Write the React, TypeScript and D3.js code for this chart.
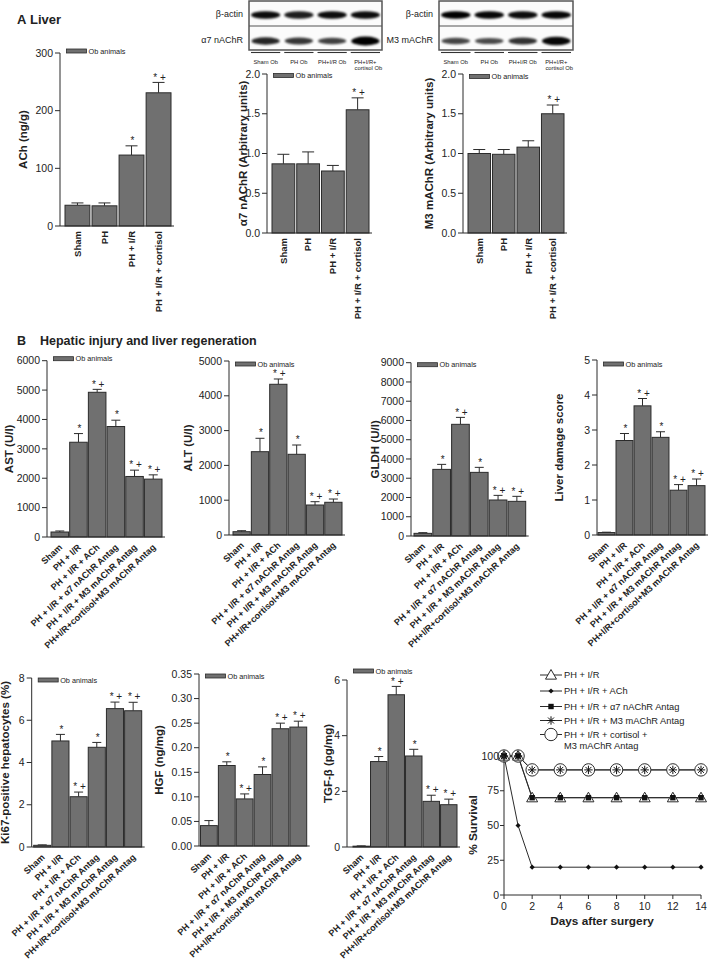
import React from "react";
import * as d3 from "d3";

const FONT = "'Liberation Sans', Arial, Helvetica, sans-serif";
const BAR_FILL = "#707070";
const INK = "#2b2b2b";

// ---------- categories & labels ----------
const catsA = ["Sham", "PH", "PH + I/R", "PH + I/R + cortisol"];
const catsB = [
  "Sham",
  "PH + I/R",
  "PH + I/R + ACh",
  "PH + I/R + \u03b17 nAChR Antag",
  "PH + I/R + M3 mAChR Antag",
  "PH+I/R+cortisol+M3 mAChR Antag",
];
const sigA1 = ["", "", "*", "* +"];
const sigA23 = ["", "", "", "* +"];
const sigB = ["", "*", "* +", "*", "* +", "* +"];
const laneLabels = ["Sham Ob", "PH Ob", "PH+I/R Ob", "PH+I/R+|cortisol Ob"];

// ---------- panel A ----------
const achMean = [36, 35, 123, 231];
const achSem = [4, 5, 16, 18];
const achTicks = [0, 100, 200, 300];

const a7Mean = [0.87, 0.87, 0.78, 1.55];
const a7Sem = [0.12, 0.15, 0.07, 0.15];
const m3Mean = [1.0, 0.99, 1.08, 1.5];
const m3Sem = [0.05, 0.06, 0.08, 0.11];
const arbTicks = [0, 0.5, 1.0, 1.5, 2.0];

// blot band intensities (0..1)
const a7BlotActin = [0.95, 0.88, 0.95, 0.95];
const a7BlotTarget = [0.85, 0.78, 0.74, 1.0];
const m3BlotActin = [1.0, 0.97, 0.95, 0.97];
const m3BlotTarget = [0.72, 0.7, 0.8, 0.97];

// ---------- panel B ----------
const astMean = [170, 3225, 4925, 3760, 2060, 1970];
const astSem = [35, 295, 100, 215, 215, 145];
const astTicks = [0, 1000, 2000, 3000, 4000, 5000, 6000];

const altMean = [95, 2394, 4331, 2319, 862, 940];
const altSem = [29, 385, 152, 267, 95, 94];
const altTicks = [0, 1000, 2000, 3000, 4000, 5000];

const gldhMean = [138, 3460, 5800, 3305, 1870, 1800];
const gldhSem = [35, 260, 360, 260, 240, 260];
const gldhTicks = [0, 1000, 2000, 3000, 4000, 5000, 6000, 7000, 8000, 9000];

const ldsMean = [0.07, 2.7, 3.69, 2.79, 1.28, 1.41];
const ldsSem = [0.01, 0.2, 0.21, 0.16, 0.16, 0.19];
const ldsTicks = [0, 1, 2, 3, 4, 5];

const ki67Mean = [0.08, 5.02, 2.38, 4.72, 6.55, 6.45];
const ki67Sem = [0.02, 0.31, 0.22, 0.23, 0.31, 0.4];
const ki67Ticks = [0, 2, 4, 6, 8];

const hgfMean = [0.0415, 0.1638, 0.0958, 0.1455, 0.2386, 0.242];
const hgfSem = [0.0102, 0.0075, 0.0102, 0.0155, 0.0114, 0.012];
const hgfTicks = [0, 0.05, 0.1, 0.15, 0.2, 0.25, 0.3, 0.35];

const tgfMean = [0.03, 3.07, 5.47, 3.27, 1.64, 1.52];
const tgfSem = [0.01, 0.18, 0.3, 0.24, 0.22, 0.2];
const tgfTicks = [0, 2, 4, 6];

// ---------- survival ----------
const days = [0, 1, 2, 4, 6, 8, 10, 12, 14];
const survIR = [100, 100, 70, 70, 70, 70, 70, 70, 70];
const survACh = [100, 50, 20, 20, 20, 20, 20, 20, 20];
const survA7 = [100, 100, 70, 70, 70, 70, 70, 70, 70];
const survM3 = [100, 100, 90, 90, 90, 90, 90, 90, 90];
const survCort = [100, 100, 90, 90, 90, 90, 90, 90, 90];
const survTicksY = [0, 25, 50, 75, 100];
const survTicksX = [0, 2, 4, 6, 8, 10, 12, 14];
const survNames = [
  "PH + I/R",
  "PH + I/R + ACh",
  "PH + I/R + \u03b17 nAChR Antag",
  "PH + I/R + M3 mAChR Antag",
  "PH + I/R + cortisol +|M3 mAChR Antag",
];

type PanelCfg = {
  x0: number;
  padL: number;
  xEnd: number;
  yTop: number;
  yBot: number;
  pad: number;
  titleX: number;
  slanted: boolean;
  capW: number;
  legDy: number;
};

function BarPanel(props: {
  cfg: PanelCfg;
  cats: string[];
  means: number[];
  sems: number[];
  sigs: string[];
  ticks: number[];
  fmt: (v: number) => string;
  yTitle: string;
}) {
  const { cfg, cats, means, sems, sigs, ticks, fmt, yTitle } = props;
  const y = d3
    .scaleLinear()
    .domain([0, ticks[ticks.length - 1]])
    .range([cfg.yBot, cfg.yTop]);
  const x = d3
    .scaleBand<string>()
    .domain(cats)
    .range([cfg.x0 + cfg.padL, cfg.xEnd])
    .paddingInner(cfg.pad)
    .paddingOuter(0);
  const bw = x.bandwidth();
  const midY = (cfg.yTop + cfg.yBot) / 2;
  const ly = cfg.yTop + cfg.legDy;
  return (
    <g>
      {/* legend */}
      <rect
        x={cfg.x0 + 6.5}
        y={ly - 2}
        width={20}
        height={4}
        fill={BAR_FILL}
        stroke={INK}
        strokeWidth={0.8}
      />
      <text x={cfg.x0 + 28.5} y={ly + 2.6} fontSize={7.3} fill="#222">
        Ob animals
      </text>
      {/* bars */}
      {cats.map((c, i) => {
        const x0 = x(c)!;
        const top = y(means[i]);
        const et = y(means[i] + sems[i]);
        const cx = x0 + bw / 2;
        return (
          <g key={c}>
            <line x1={cx} x2={cx} y1={top} y2={et} stroke={INK} strokeWidth={1} />
            <line
              x1={cx - cfg.capW / 2}
              x2={cx + cfg.capW / 2}
              y1={et}
              y2={et}
              stroke={INK}
              strokeWidth={1}
            />
            <rect
              x={x0}
              y={top}
              width={bw}
              height={cfg.yBot - top}
              fill={BAR_FILL}
              stroke={INK}
              strokeWidth={1}
            />
            {sigs[i] && (
              <text
                x={cx + 1}
                y={et - 1.8}
                textAnchor="middle"
                fontSize={10}
                fill="#222"
              >
                {sigs[i]}
              </text>
            )}
            {cfg.slanted ? (
              <text
                transform={`translate(${cx + 3},${cfg.yBot + 11}) rotate(-43)`}
                textAnchor="end"
                fontSize={9}
                fontWeight="bold"
                fill="#222"
              >
                {c}
              </text>
            ) : (
              <text
                transform={`translate(${cx},${cfg.yBot + 5}) rotate(-90)`}
                textAnchor="end"
                dy="0.35em"
                fontSize={9.5}
                fontWeight="bold"
                fill="#222"
              >
                {c}
              </text>
            )}
          </g>
        );
      })}
      {/* axes */}
      <line
        x1={cfg.x0}
        x2={cfg.x0}
        y1={cfg.yTop}
        y2={cfg.yBot}
        stroke={INK}
        strokeWidth={1}
      />
      <line
        x1={cfg.x0}
        x2={cfg.xEnd + 3}
        y1={cfg.yBot}
        y2={cfg.yBot}
        stroke={INK}
        strokeWidth={1}
      />
      {ticks.map((t) => (
        <g key={t}>
          <line
            x1={cfg.x0 - 5}
            x2={cfg.x0}
            y1={y(t)}
            y2={y(t)}
            stroke={INK}
            strokeWidth={1}
          />
          <text
            x={cfg.x0 - 7}
            y={y(t)}
            dy="0.35em"
            textAnchor="end"
            fontSize={10.5}
            fill="#222"
          >
            {fmt(t)}
          </text>
        </g>
      ))}
      <text
        transform={`translate(${cfg.titleX},${midY}) rotate(-90)`}
        textAnchor="middle"
        dy="0.35em"
        fontSize={11.5}
        fontWeight="bold"
        fill="#222"
      >
        {yTitle}
      </text>
    </g>
  );
}

function Blot(props: {
  x: number;
  y: number;
  w: number;
  topLabel: string;
  botLabel: string;
  topI: number[];
  botI: number[];
  fid: string;
}) {
  const { x, y, w, topLabel, botLabel, topI, botI, fid } = props;
  const lanes = d3.scaleBand<number>().domain([0, 1, 2, 3]).range([x, x + w]);
  const lw = lanes.bandwidth();
  const h = 49;
  return (
    <g>
      <defs>
        <filter id={fid} x="-20%" y="-100%" width="140%" height="300%">
          <feGaussianBlur stdDeviation="1.2" />
        </filter>
      </defs>
      <rect x={x} y={y} width={w} height={h} fill="#fbfbfb" />
      {topI.map((v, i) => (
        <ellipse
          key={"t" + i}
          cx={lanes(i)! + lw / 2}
          cy={y + 14}
          rx={lw / 2 - 2}
          ry={3.8}
          fill="#000"
          opacity={v}
          filter={`url(#${fid})`}
        />
      ))}
      {botI.map((v, i) => (
        <ellipse
          key={"b" + i}
          cx={lanes(i)! + lw / 2}
          cy={y + 40}
          rx={lw / 2 - 2.5}
          ry={1.8 + v * v * 2.6}
          fill="#000"
          opacity={v}
          filter={`url(#${fid})`}
        />
      ))}
      <rect x={x} y={y} width={w} height={h} fill="none" stroke="#555" strokeWidth={1.5} />
      <line x1={x} x2={x + w} y1={y + 25} y2={y + 25} stroke="#555" strokeWidth={1.2} />
      <text x={x - 6} y={y + 13} dy="0.35em" textAnchor="end" fontSize={9} fill="#222">
        {topLabel}
      </text>
      <text x={x - 6} y={y + 39} dy="0.35em" textAnchor="end" fontSize={9} fill="#222">
        {botLabel}
      </text>
      {laneLabels.map((l, i) => {
        const cx = lanes(i)! + lw / 2;
        const parts = l.split("|");
        return (
          <g key={l}>
            <line
              x1={lanes(i)! + 2}
              x2={lanes(i)! + lw - 2}
              y1={y + 51.5}
              y2={y + 51.5}
              stroke="#333"
              strokeWidth={1.1}
            />
            {parts.map((p, k) => (
              <text
                key={p}
                x={k === 0 ? cx : cx + 3}
                y={y + 63 + k * 5.5}
                textAnchor="middle"
                fontSize={5.8}
                fill="#222"
              >
                {p}
              </text>
            ))}
          </g>
        );
      })}
    </g>
  );
}

function Marker({ kind, x, y }: { kind: number; x: number; y: number }) {
  if (kind === 0) {
    const s = 5.5;
    return (
      <path
        d={`M${x},${y - s} L${x + s},${y + s * 0.75} L${x - s},${y + s * 0.75} Z`}
        fill="#fff"
        stroke={INK}
        strokeWidth={1}
      />
    );
  }
  if (kind === 1) {
    const s = 2.6;
    return (
      <path
        d={`M${x},${y - s} L${x + s},${y} L${x},${y + s} L${x - s},${y} Z`}
        fill="#111"
      />
    );
  }
  if (kind === 2) {
    return <rect x={x - 2.7} y={y - 2.7} width={5.4} height={5.4} fill="#111" />;
  }
  if (kind === 3) {
    const s = 4.2;
    const d = s * 0.7071;
    return (
      <g stroke="#111" strokeWidth={1}>
        <line x1={x - s} x2={x + s} y1={y} y2={y} />
        <line x1={x} x2={x} y1={y - s} y2={y + s} />
        <line x1={x - d} x2={x + d} y1={y - d} y2={y + d} />
        <line x1={x - d} x2={x + d} y1={y + d} y2={y - d} />
      </g>
    );
  }
  return <circle cx={x} cy={y} r={6.2} fill="#fff" stroke={INK} strokeWidth={1} />;
}

function Survival() {
  const x = d3.scaleLinear().domain([0, 14]).range([504, 701]);
  const y = d3.scaleLinear().domain([0, 100]).range([895, 756]);
  const series = [survIR, survACh, survA7, survM3, survCort];
  const line = d3
    .line<number>()
    .x((_, i) => x(days[i]))
    .y((v) => y(v));
  const drawOrder = [4, 0, 2, 3, 1];
  const legY = [675, 691, 706.5, 720.5, 734.5];
  return (
    <g>
      {series.map((s, k) => (
        <path key={"l" + k} d={line(s)!} fill="none" stroke={INK} strokeWidth={1} />
      ))}
      {drawOrder.map((k) =>
        series[k].map((v, i) => <Marker key={k + "-" + i} kind={k} x={x(days[i])} y={y(v)} />)
      )}
      <line x1={504} x2={504} y1={756} y2={895} stroke={INK} strokeWidth={1} />
      <line x1={504} x2={701} y1={895} y2={895} stroke={INK} strokeWidth={1} />
      {survTicksY.map((t) => (
        <g key={t}>
          <line x1={500} x2={504} y1={y(t)} y2={y(t)} stroke={INK} />
          <text x={499} y={y(t)} dy="0.35em" textAnchor="end" fontSize={10.5} fill="#222">
            {t}
          </text>
        </g>
      ))}
      {survTicksX.map((t) => (
        <g key={t}>
          <line x1={x(t)} x2={x(t)} y1={895} y2={899} stroke={INK} />
          <text x={x(t)} y={910} textAnchor="middle" fontSize={10.5} fill="#222">
            {t}
          </text>
        </g>
      ))}
      <text x={602} y={925} textAnchor="middle" fontSize={11.8} fontWeight="bold" fill="#222">
        Days after surgery
      </text>
      <text
        transform="translate(473,825) rotate(-90)"
        textAnchor="middle"
        dy="0.35em"
        fontSize={11.8}
        fontWeight="bold"
        fill="#222"
      >
        % Survival
      </text>
      {survNames.map((n, k) => {
        const parts = n.split("|");
        return (
          <g key={n}>
            <line x1={540} x2={562} y1={legY[k]} y2={legY[k]} stroke={INK} strokeWidth={1} />
            <Marker kind={k} x={551} y={legY[k]} />
            {parts.map((p, j) => (
              <text
                key={p}
                x={564}
                y={legY[k] + j * 11}
                dy="0.35em"
                fontSize={9.3}
                fill="#222"
              >
                {p}
              </text>
            ))}
          </g>
        );
      })}
    </g>
  );
}

const f0 = (v: number) => d3.format("d")(v);
const f1 = (v: number) => d3.format(".1f")(v);
const f2 = (v: number) => d3.format(".2f")(v);

export default function App() {
  const A = (x0: number, xEnd: number, yTop: number, yBot: number, titleX: number, legDy: number): PanelCfg => ({
    x0,
    padL: 5,
    xEnd,
    yTop,
    yBot,
    pad: 0.08,
    titleX,
    slanted: false,
    capW: 12,
    legDy,
  });
  const B = (
    x0: number,
    padL: number,
    xEnd: number,
    yTop: number,
    yBot: number,
    titleX: number,
    legDy: number
  ): PanelCfg => ({
    x0,
    padL,
    xEnd,
    yTop,
    yBot,
    pad: 0.06,
    titleX,
    slanted: true,
    capW: 9,
    legDy,
  });
  return (
    <svg
      width={709}
      height={967}
      style={{ position: "absolute", left: 0, top: 0, background: "#fff" }}
      fontFamily={FONT}
    >
      <rect x={0} y={0} width={709} height={967} fill="#fff" />
      <text x={17} y={24} fontSize={13} fontWeight="bold" fill="#222">
        A
      </text>
      <text x={30} y={24} fontSize={13} fontWeight="bold" fill="#222">
        Liver
      </text>
      <text x={17} y={345} fontSize={12.5} fontWeight="bold" fill="#222">
        B
      </text>
      <text x={40} y={345} fontSize={12.5} fontWeight="bold" fill="#222">
        Hepatic injury and liver regeneration
      </text>

      <Blot x={249} y={1} w={133} topLabel={"\u03b2-actin"} botLabel={"\u03b17 nAChR"} topI={a7BlotActin} botI={a7BlotTarget} fid="blur1" />
      <Blot x={439} y={1} w={134} topLabel={"\u03b2-actin"} botLabel={"M3 mAChR"} topI={m3BlotActin} botI={m3BlotTarget} fid="blur2" />

      <BarPanel cfg={A(60, 171, 53, 226, 23, -2)} cats={catsA} means={achMean} sems={achSem} sigs={sigA1} ticks={achTicks} fmt={f0} yTitle="ACh (ng/g)" />
      <BarPanel cfg={A(267, 369, 74, 233, 243, 1.5)} cats={catsA} means={a7Mean} sems={a7Sem} sigs={sigA23} ticks={arbTicks} fmt={f1} yTitle={"\u03b17 nAChR (Arbitrary units)"} />
      <BarPanel cfg={A(463, 564, 74, 233, 429, 2.5)} cats={catsA} means={m3Mean} sems={m3Sem} sigs={sigA23} ticks={arbTicks} fmt={f1} yTitle="M3 mAChR (Arbitrary units)" />

      <BarPanel cfg={B(47, 4, 162, 360.7, 537, 9, -2)} cats={catsB} means={astMean} sems={astSem} sigs={sigB} ticks={astTicks} fmt={f0} yTitle="AST (U/l)" />
      <BarPanel cfg={B(229, 4, 342, 361, 535, 188, 3)} cats={catsB} means={altMean} sems={altSem} sigs={sigB} ticks={altTicks} fmt={f0} yTitle="ALT (U/l)" />
      <BarPanel cfg={B(411, 3, 525.7, 362.7, 536, 375, 2)} cats={catsB} means={gldhMean} sems={gldhSem} sigs={sigB} ticks={gldhTicks} fmt={f0} yTitle="GLDH (U/l)" />
      <BarPanel cfg={B(597, 1, 705, 360, 535, 559, 4)} cats={catsB} means={ldsMean} sems={ldsSem} sigs={sigB} ticks={ldsTicks} fmt={f0} yTitle="Liver damage score" />

      <BarPanel cfg={B(31.7, 2, 141.7, 678, 847, 5, 2)} cats={catsB} means={ki67Mean} sems={ki67Sem} sigs={sigB} ticks={ki67Ticks} fmt={f0} yTitle="Ki67-positive hepatocytes (%)" />
      <BarPanel cfg={B(199, 1.5, 306.7, 674, 846, 159, 2)} cats={catsB} means={hgfMean} sems={hgfSem} sigs={sigB} ticks={hgfTicks} fmt={f2} yTitle="HGF (ng/mg)" />
      <BarPanel cfg={B(347, 6, 457, 680, 847, 328, -9)} cats={catsB} means={tgfMean} sems={tgfSem} sigs={sigB} ticks={tgfTicks} fmt={f0} yTitle={"TGF-\u03b2 (pg/mg)"} />

      <Survival />
    </svg>
  );
}
